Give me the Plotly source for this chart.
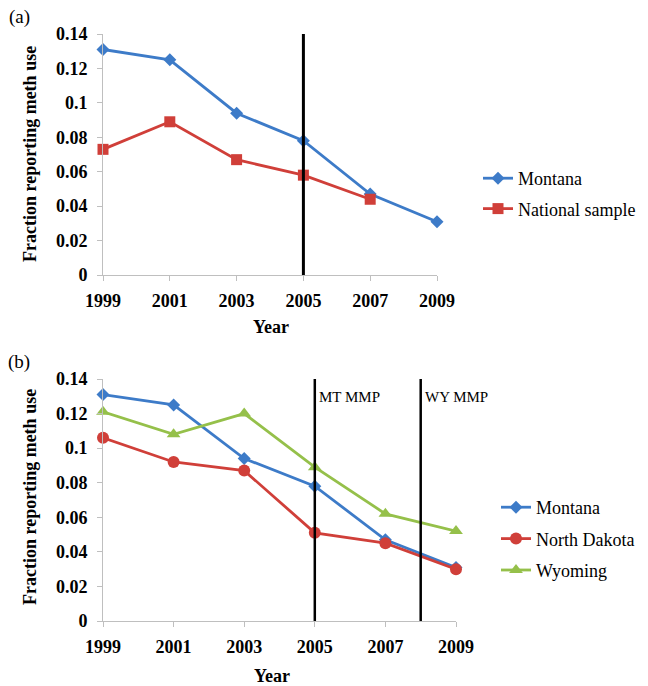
import plotly.graph_objects as go

years = [1999, 2001, 2003, 2005, 2007, 2009]

# Panel (a)
montana_a = [0.131, 0.125, 0.094, 0.078, 0.047, 0.031]
national = [0.073, 0.089, 0.067, 0.058, 0.044]

# Panel (b)
montana_b = [0.131, 0.125, 0.094, 0.078, 0.047, 0.031]
north_dakota = [0.106, 0.092, 0.087, 0.051, 0.045, 0.030]
wyoming = [0.121, 0.108, 0.120, 0.089, 0.062, 0.052]

y_ticks = [0, 0.02, 0.04, 0.06, 0.08, 0.1, 0.12, 0.14]
y_ticktext = ["0", "0.02", "0.04", "0.06", "0.08", "0.1", "0.12", "0.14"]

policy_a = [2005]
policy_b = [2005, 2008]
policy_b_labels = ["MT MMP", "WY MMP"]

BLUE = "#3D7BC8"
RED = "#D03F39"
GREEN = "#95C04A"
FONT = "Liberation Serif, Times New Roman, serif"

W, H = 648, 686

fig = go.Figure()

fig.add_trace(go.Scatter(x=years, y=montana_a, name="Montana", mode="lines+markers",
                         line=dict(color=BLUE, width=2.8),
                         marker=dict(symbol="diamond", size=10, color=BLUE),
                         cliponaxis=False, legend="legend", legendgroup="a1",
                         xaxis="x", yaxis="y"))
fig.add_trace(go.Scatter(x=years[:len(national)], y=national, name="National sample",
                         mode="lines+markers",
                         line=dict(color=RED, width=2.8),
                         marker=dict(symbol="square", size=11, color=RED),
                         cliponaxis=False, legend="legend", legendgroup="a2",
                         xaxis="x", yaxis="y"))

fig.add_trace(go.Scatter(x=years, y=montana_b, name="Montana", mode="lines+markers",
                         line=dict(color=BLUE, width=2.8),
                         marker=dict(symbol="diamond", size=10, color=BLUE),
                         cliponaxis=False, legend="legend2", legendgroup="b1",
                         xaxis="x2", yaxis="y2"))
fig.add_trace(go.Scatter(x=years, y=north_dakota, name="North Dakota", mode="lines+markers",
                         line=dict(color=RED, width=2.8),
                         marker=dict(symbol="circle", size=12, color=RED),
                         cliponaxis=False, legend="legend2", legendgroup="b2",
                         xaxis="x2", yaxis="y2"))
fig.add_trace(go.Scatter(x=years, y=wyoming, name="Wyoming", mode="lines+markers",
                         line=dict(color=GREEN, width=2.8),
                         marker=dict(symbol="triangle-up", size=12, color=GREEN),
                         cliponaxis=False, legend="legend2", legendgroup="b3",
                         xaxis="x2", yaxis="y2"))

def px_x(p):
    return p / W

def px_y(p):
    return 1 - p / H

axis_common = dict(showgrid=False, zeroline=False, showline=True, linecolor="#BFBFBF",
                   linewidth=1, ticks="outside", tickcolor="#BFBFBF", ticklen=5,
                   automargin=False,
                   tickfont=dict(family=FONT, size=18, color="black", weight="bold"))

fig.update_layout(
    width=W, height=H,
    margin=dict(l=0, r=0, t=0, b=0, autoexpand=False),
    paper_bgcolor="white", plot_bgcolor="white",
    font=dict(family=FONT, color="black"),
    xaxis=dict(domain=[px_x(103), px_x(437)], range=[1999, 2009], tickvals=years,
               anchor="y", ticklabelstandoff=4, **axis_common),
    yaxis=dict(domain=[px_y(275), px_y(34)], range=[0, 0.14], tickvals=y_ticks,
               ticktext=y_ticktext, anchor="x", ticklabelstandoff=6, **axis_common),
    xaxis2=dict(domain=[px_x(103), px_x(456)], range=[1999, 2009], tickvals=years,
                anchor="y2", ticklabelstandoff=4, **axis_common),
    yaxis2=dict(domain=[px_y(621), px_y(379)], range=[0, 0.14], tickvals=y_ticks,
                ticktext=y_ticktext, anchor="x2", ticklabelstandoff=6, **axis_common),
    legend=dict(x=px_x(478), y=px_y(160), xanchor="left", yanchor="top",
                font=dict(family=FONT, size=18, color="black"),
                traceorder="grouped", tracegroupgap=4, bgcolor="rgba(0,0,0,0)"),
    legend2=dict(x=px_x(496), y=px_y(489), xanchor="left", yanchor="top",
                 font=dict(family=FONT, size=18, color="black"),
                 traceorder="grouped", tracegroupgap=5, bgcolor="rgba(0,0,0,0)"),
    showlegend=True,
)

for yr in policy_a:
    fig.add_shape(type="line", xref="x", yref="y", x0=yr, x1=yr, y0=0, y1=0.14,
                  line=dict(color="black", width=3))
for yr, lab in zip(policy_b, policy_b_labels):
    fig.add_shape(type="line", xref="x2", yref="y2", x0=yr, x1=yr, y0=0, y1=0.14,
                  line=dict(color="black", width=2.5))
    fig.add_annotation(x=yr, y=0.14, xref="x2", yref="y2", text=lab, showarrow=False,
                       xanchor="left", yanchor="top", xshift=2, yshift=-8,
                       font=dict(family=FONT, size=15, color="black"))

def ann(text, x, y, size, bold=False, angle=0):
    fig.add_annotation(x=px_x(x), y=px_y(y), xref="paper", yref="paper", text=text,
                       showarrow=False, textangle=angle, xanchor="center", yanchor="middle",
                       font=dict(family=FONT, size=size, color="black",
                                 weight="bold" if bold else "normal"))

ann("(a)", 19, 17, 19)
ann("(b)", 19, 362, 19)
ann("Year", 271, 327, 18, bold=True)
ann("Year", 272, 676, 18, bold=True)
ann("Fraction reporting meth use", 30, 154, 18, bold=True, angle=-90)
ann("Fraction reporting meth use", 30, 497, 18, bold=True, angle=-90)

fig.write_html("out.html", config={"displayModeBar": False},
               post_script="document.body.style.margin='0';")
